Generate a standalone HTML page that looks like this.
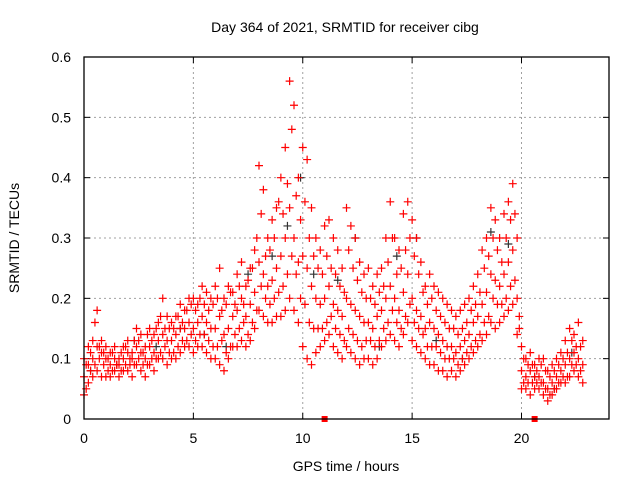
<!DOCTYPE html>
<html><head><meta charset="utf-8"><style>
body{margin:0;background:#fff;}
svg{display:block;font-family:"Liberation Sans",sans-serif;}
</style></head><body>
<svg id="chart" width="640" height="480">
<text x="345" y="32" font-size="14" text-anchor="middle" fill="#000">Day 364 of 2021, SRMTID for receiver cibg</text>
<text x="346" y="471" font-size="14" text-anchor="middle">GPS time / hours</text>
<text transform="translate(19,238) rotate(-90)" font-size="14" text-anchor="middle">SRMTID / TECUs</text>
<g id="grid"></g>
<g id="ticks"></g>
<g id="marks"></g>
<rect x="84" y="57" width="525" height="362" fill="none" stroke="#000" stroke-width="1.3"/>
</svg>
<script>
const xTicks=[0,5,10,15,20];
const yTicks=[0,0.1,0.2,0.3,0.4,0.5,0.6];
const yTickLabels=["0","0.1","0.2","0.3","0.4","0.5","0.6"];
const times=[0,0.2,0.4,0.6,0.8,1,1.2,1.4,1.6,1.8,2,2.2,2.4,2.6,2.8,3,3.2,3.4,3.6,3.8,4,4.2,4.4,4.6,4.8,5,5.2,5.4,5.6,5.8,6,6.2,6.4,6.6,6.8,7,7.2,7.4,7.6,7.8,8,8.2,8.4,8.6,8.8,9,9.2,9.4,9.6,9.8,10,10.2,10.4,10.6,10.8,11,11.2,11.4,11.6,11.8,12,12.2,12.4,12.6,12.8,13,13.2,13.4,13.6,13.8,14,14.2,14.4,14.6,14.8,15,15.2,15.4,15.6,15.8,16,16.2,16.4,16.6,16.8,17,17.2,17.4,17.6,17.8,18,18.2,18.4,18.6,18.8,19,19.2,19.4,19.6,19.8,20,20.2,20.4,20.6,20.8,21,21.2,21.4,21.6,21.8,22,22.2,22.4,22.6,22.8];
const redHigh=[.10,.12,.13,.18,.13,.12,.11,.12,.10,.12,.13,.11,.15,.14,.12,.15,.14,.16,.20,.17,.16,.17,.19,.18,.20,.20,.19,.22,.21,.20,.22,.25,.20,.22,.21,.24,.26,.22,.25,.28,.42,.38,.30,.33,.35,.40,.45,.56,.52,.40,.45,.43,.35,.30,.28,.32,.33,.30,.28,.25,.35,.32,.30,.26,.24,.25,.22,.24,.25,.30,.36,.30,.28,.34,.36,.33,.30,.26,.22,.24,.22,.21,.20,.19,.18,.17,.18,.19,.20,.22,.24,.28,.30,.35,.33,.30,.34,.36,.39,.30,.12,.10,.11,.09,.10,.10,.08,.09,.10,.11,.13,.15,.14,.16,.13];
const redMid=[.07,.09,.10,.12,.11,.10,.09,.10,.09,.10,.11,.10,.12,.11,.10,.12,.11,.13,.14,.13,.13,.14,.15,.15,.16,.15,.16,.17,.16,.15,.15,.17,.14,.15,.17,.18,.20,.17,.19,.21,.26,.24,.22,.23,.25,.27,.30,.35,.30,.26,.27,.25,.22,.20,.19,.20,.22,.19,.18,.17,.20,.19,.18,.17,.16,.16,.15,.17,.18,.20,.22,.20,.18,.21,.24,.20,.18,.17,.15,.16,.15,.14,.13,.12,.12,.11,.12,.13,.14,.16,.17,.19,.21,.24,.23,.22,.24,.26,.28,.20,.08,.07,.08,.07,.07,.06,.05,.06,.07,.08,.09,.10,.11,.10,.09];
const redLow=[.04,.06,.07,.08,.07,.07,.07,.08,.07,.08,.08,.07,.09,.08,.07,.09,.08,.10,.10,.09,.10,.10,.11,.12,.12,.11,.12,.12,.11,.10,.10,.09,.08,.10,.12,.12,.13,.12,.13,.15,.18,.17,.16,.16,.17,.17,.18,.20,.18,.16,.12,.10,.09,.11,.12,.13,.14,.12,.11,.10,.12,.11,.10,.09,.10,.10,.09,.10,.12,.13,.14,.13,.12,.14,.16,.13,.12,.11,.10,.09,.09,.08,.08,.07,.08,.07,.08,.09,.10,.11,.12,.13,.14,.16,.15,.16,.17,.18,.19,.14,.05,.05,.04,.05,.05,.04,.03,.04,.05,.06,.06,.07,.08,.07,.06];
const times2=[0.1,0.3,0.5,0.7,0.9,1.1,1.3,1.5,1.7,1.9,2.1,2.3,2.5,2.7,2.9,3.1,3.3,3.5,3.7,3.9,4.1,4.3,4.5,4.7,4.9,5.1,5.3,5.5,5.7,5.9,6.1,6.3,6.5,6.7,6.9,7.1,7.3,7.5,7.7,7.9,8.1,8.3,8.5,8.7,8.9,9.1,9.3,9.5,9.7,9.9,10.1,10.3,10.5,10.7,10.9,11.1,11.3,11.5,11.7,11.9,12.1,12.3,12.5,12.7,12.9,13.1,13.3,13.5,13.7,13.9,14.1,14.3,14.5,14.7,14.9,15.1,15.3,15.5,15.7,15.9,16.1,16.3,16.5,16.7,16.9,17.1,17.3,17.5,17.7,17.9,18.1,18.3,18.5,18.7,18.9,19.1,19.3,19.5,19.7,19.9,20.1,20.3,20.5,20.7,20.9,21.1,21.3,21.5,21.7,21.9,22.1,22.3,22.5,22.7];
const redUpperQ=[.09,.11,.16,.12,.11,.10,.11,.09,.11,.12,.10,.13,.13,.11,.14,.13,.15,.17,.15,.15,.15,.17,.16,.18,.19,.18,.20,.19,.18,.19,.20,.18,.19,.21,.19,.22,.19,.23,.25,.30,.34,.27,.28,.30,.36,.34,.39,.48,.37,.33,.36,.30,.27,.25,.24,.27,.25,.24,.22,.21,.28,.25,.23,.21,.20,.20,.19,.21,.22,.26,.30,.24,.25,.28,.30,.27,.24,.21,.19,.20,.18,.17,.16,.15,.15,.14,.15,.16,.18,.19,.21,.25,.27,.30,.28,.26,.30,.33,.34,.15,.10,.09,.09,.08,.09,.08,.07,.08,.09,.10,.11,.13,.12,.12];
const redLowerQ=[.05,.08,.09,.10,.09,.08,.08,.09,.08,.09,.09,.09,.10,.09,.09,.10,.10,.11,.12,.11,.11,.12,.13,.13,.14,.13,.14,.14,.13,.12,.12,.13,.11,.12,.14,.15,.16,.14,.16,.18,.22,.20,.19,.20,.21,.22,.24,.27,.24,.20,.19,.16,.15,.15,.15,.16,.17,.15,.14,.13,.15,.14,.13,.12,.13,.13,.12,.13,.15,.16,.18,.16,.15,.17,.19,.16,.15,.14,.12,.12,.12,.11,.10,.10,.10,.09,.10,.11,.12,.13,.14,.16,.17,.20,.19,.19,.20,.22,.23,.17,.06,.06,.06,.06,.06,.05,.04,.05,.06,.07,.07,.09,.09,.08];
const grayTimes=[0.3,1.5,2.3,3.3,4.4,5.5,6.5,7.5,8.6,9.3,9.9,10.5,11.6,12.4,13.5,14.3,15.2,16.1,17.3,18.6,19.4,20.6,21.5,22.3];
const grayVals=[.08,.09,.13,.12,.15,.14,.12,.24,.27,.32,.40,.24,.23,.30,.12,.27,.30,.13,.10,.31,.29,.07,.05,.11];
const squareTimes=[11.0,20.6];
const X0=84,X1=609,Y0=419,Y1=57,XMAX=24,YMAX=0.6;
function sx(v){return X0+(X1-X0)*v/XMAX;}
function sy(v){return Y0-(Y0-Y1)*v/YMAX;}
const NS="http://www.w3.org/2000/svg";
function mk(tag,attrs,parent){const e=document.createElementNS(NS,tag);for(const k in attrs)e.setAttribute(k,attrs[k]);parent.appendChild(e);return e;}
const grid=document.getElementById('grid'),ticks=document.getElementById('ticks'),marks=document.getElementById('marks');
xTicks.forEach((t,i)=>{const x=sx(t);
 if(t>0){const g=mk('line',{x1:x,x2:x,y1:Y0,y2:Y1,stroke:'#a0a0a0','stroke-dasharray':'2,3'},grid);
 
 }
 const l=mk('line',{x1:x,x2:x,y1:Y0,y2:Y0-6,stroke:'#000'},ticks);
 
 
 const l2=mk('line',{x1:x,x2:x,y1:Y1,y2:Y1+6,stroke:'#000'},ticks);
 
 
 const tx=mk('text',{x:x,y:443,'font-size':14,'text-anchor':'middle'},ticks);tx.textContent=String(t);
 
 });
yTicks.forEach((t,i)=>{const y=sy(t);
 if(t>0&&t<YMAX){const g=mk('line',{x1:X0,x2:X1,y1:y,y2:y,stroke:'#a0a0a0','stroke-dasharray':'2,3'},grid);
 
 }
 const l=mk('line',{x1:X0,x2:X0+6,y1:y,y2:y,stroke:'#000'},ticks);
 
 
 const l2=mk('line',{x1:X1,x2:X1-6,y1:y,y2:y,stroke:'#000'},ticks);
 
 
 const tx=mk('text',{x:71,y:y+5,'font-size':14,'text-anchor':'end'},ticks);tx.textContent=yTickLabels[i];
 
 });
function cross(x,y,col){const p=mk('path',{d:`M${x-4},${y}h8M${x},${y-4}v8`,stroke:col,'stroke-width':1.2,fill:'none'},marks);
 
 }
grayTimes.forEach((t,i)=>cross(sx(t),sy(grayVals[i]),'#333'));
[redLow,redMid,redHigh].forEach(arr=>{times.forEach((t,i)=>cross(sx(t),sy(arr[i]),'#ff0000'));});
[redLowerQ,redUpperQ].forEach(arr=>{times2.forEach((t,i)=>cross(sx(t),sy(arr[i]),'#ff0000'));});
squareTimes.forEach(t=>{const r=mk('rect',{x:sx(t)-3,y:Y0-3,width:6,height:6,fill:'#ff0000'},marks);
 
 });
</script>
</body></html>
